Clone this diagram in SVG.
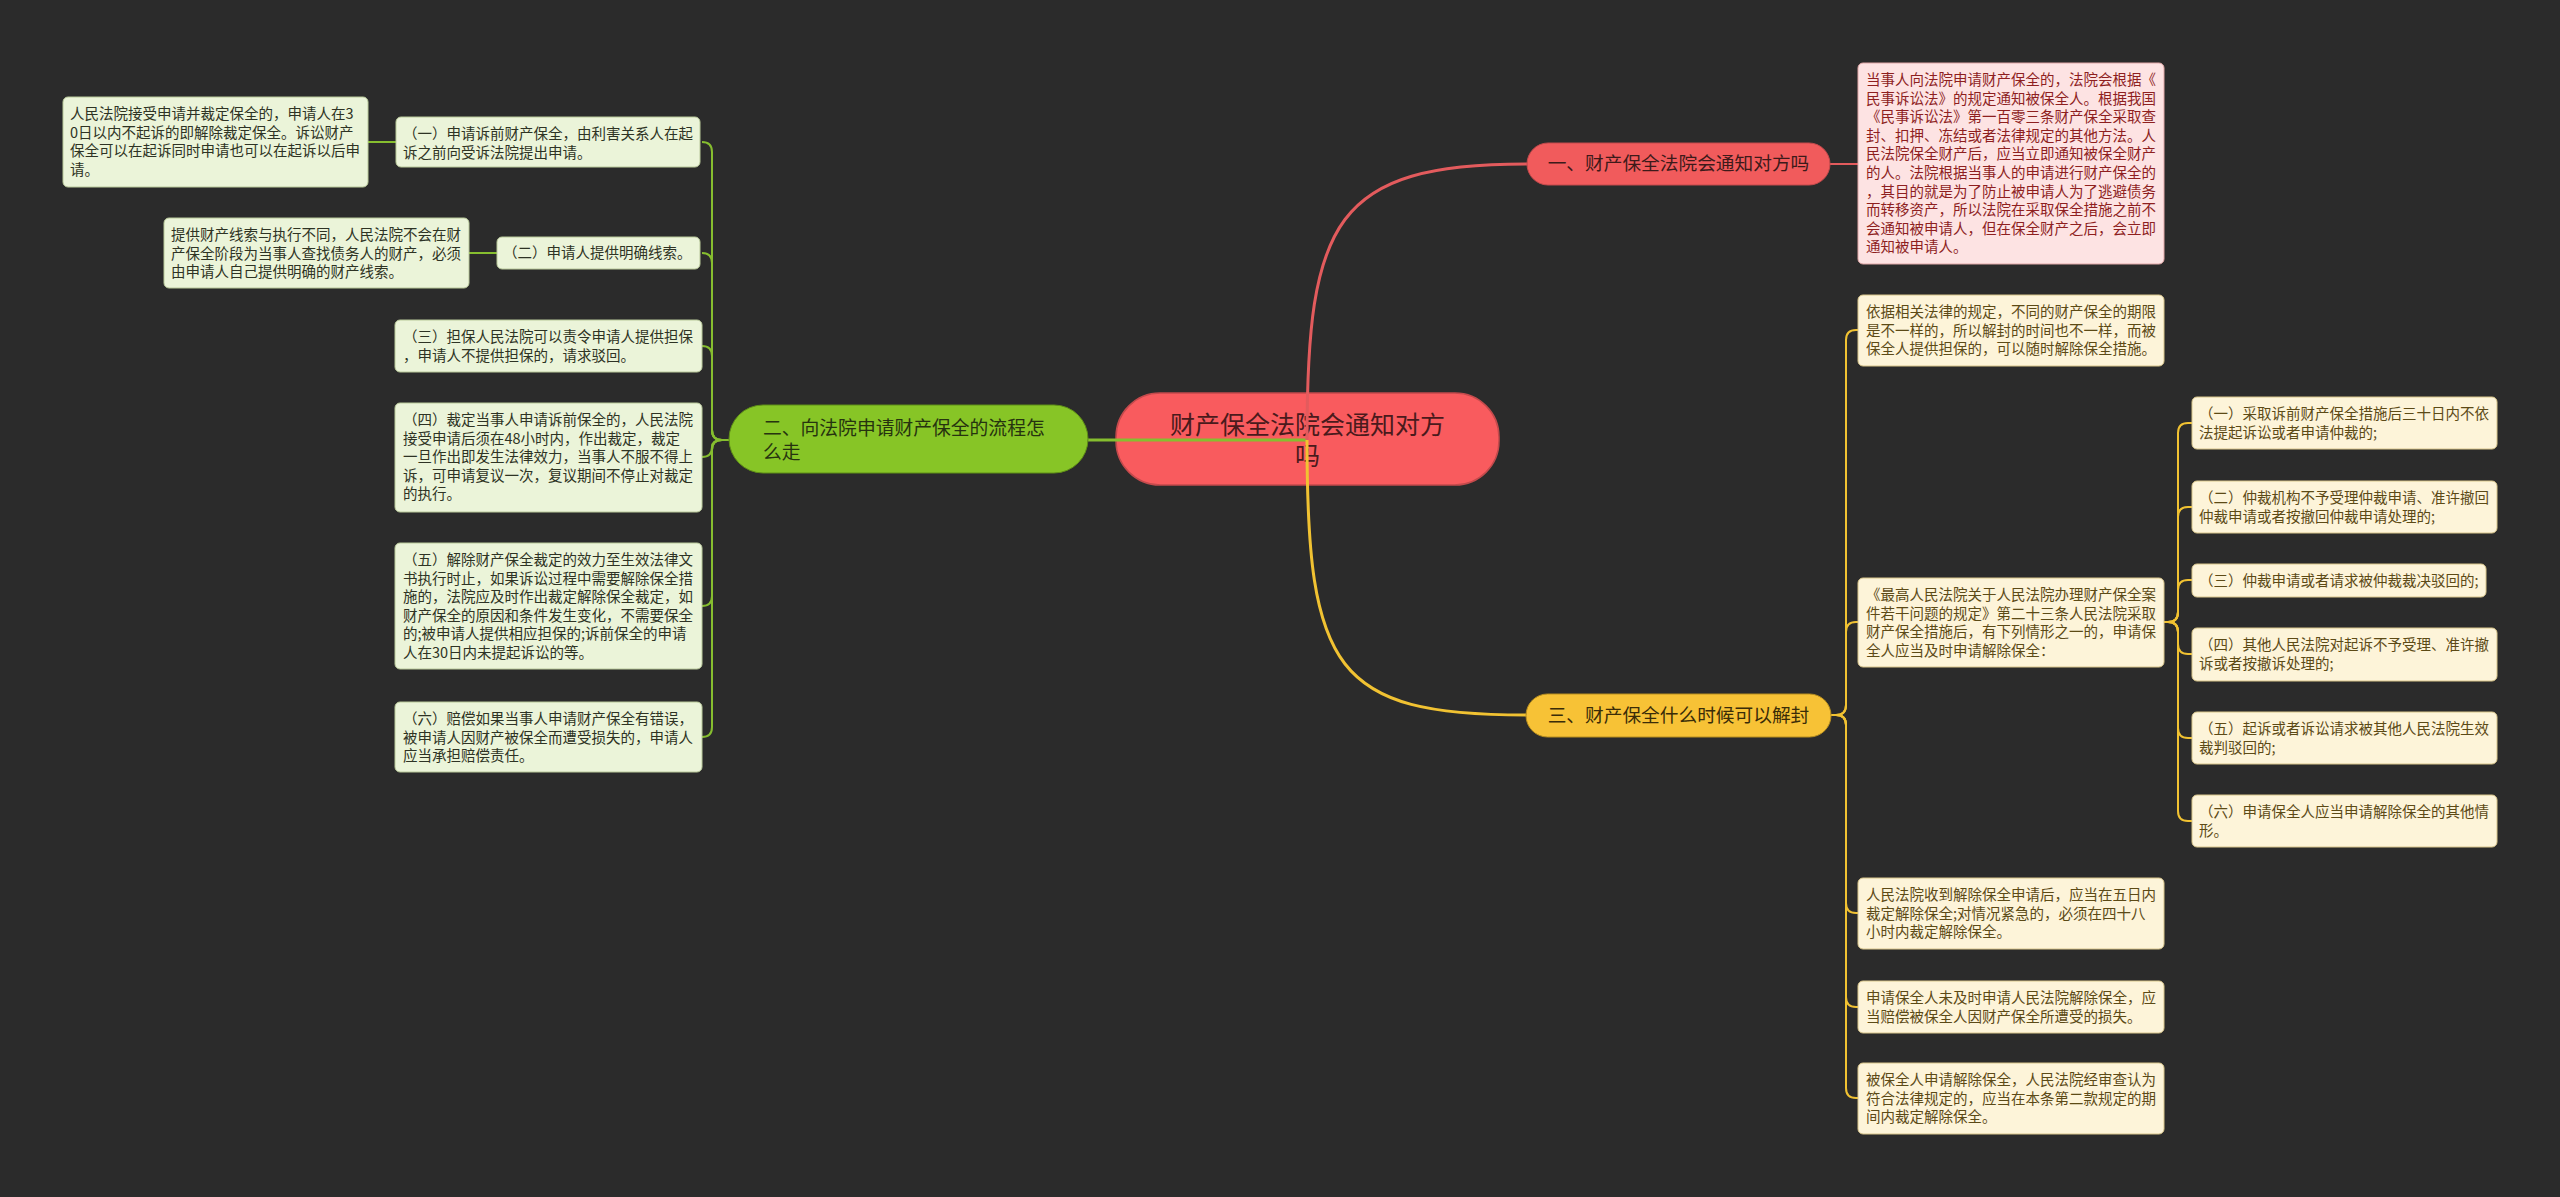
<svg xmlns="http://www.w3.org/2000/svg" width="2560" height="1197" viewBox="0 0 2560 1197">
<style>
text{font-family:"Noto Sans CJK SC","Noto Sans",sans-serif}
.t{font-size:14.5px}
.gl rect{fill:#ebf4d9;stroke:#b9c99a;stroke-width:1}
.gl text{fill:#2e3324}
.yl rect{fill:#fdf4d9;stroke:#d8c58a;stroke-width:1}
.yl text{fill:#5c4a16}
.pl rect{fill:#fde3e3;stroke:#e0a7a7;stroke-width:1}
.pl text{fill:#8e1f1f}
.cg{fill:none;stroke:#86be2f;stroke-width:2}
.cy{fill:none;stroke:#f1c232;stroke-width:2}
.cr{fill:none;stroke:#e35b5d;stroke-width:2}
</style>
<rect width="2560" height="1197" fill="#2b2b2b"/>

<g id="root">
<rect x="1116" y="393" width="383" height="92" rx="44" fill="#f95b5e" stroke="#c44a4c" stroke-width="1.5"/>
<text x="1307.5" y="434" font-size="25" fill="#4a1a1c" text-anchor="middle">财产保全法院会通知对方</text>
<text x="1307.5" y="465" font-size="25" fill="#4a1a1c" text-anchor="middle">吗</text>
</g>

<g id="connectors">
<path d="M1088,440 L1307,440" fill="none" stroke="#86be2f" stroke-width="3"/>
<path d="M1307,440 C1307,220 1335,164 1527,164" fill="none" stroke="#e35b5d" stroke-width="3"/>
<path d="M1307,440 C1307,670 1335,715 1526,715" fill="none" stroke="#f1c232" stroke-width="3"/>
<path class="cr" d="M1830,164 L1858,164"/>
<path class="cg" d="M729,440 L722,440 Q712,440 712,430 L712,152 Q712,142 702,142"/>
<path class="cg" d="M729,440 L722,440 Q712,440 712,430 L712,263 Q712,253 702,253"/>
<path class="cg" d="M729,440 L722,440 Q712,440 712,430 L712,356 Q712,346 702,346"/>
<path class="cg" d="M729,440 L722,440 Q712,440 712,447 Q712,457 702,457"/>
<path class="cg" d="M729,440 L722,440 Q712,440 712,450 L712,596 Q712,606 702,606"/>
<path class="cg" d="M729,440 L722,440 Q712,440 712,450 L712,727 Q712,737 702,737"/>
<path class="cg" d="M396,142 L368,142"/>
<path class="cg" d="M497,253 L469,253"/>
<path class="cy" d="M1831,715 L1836,715 Q1846,715 1846,705 L1846,340 Q1846,330 1856,330 L1858,330"/>
<path class="cy" d="M1831,715 L1836,715 Q1846,715 1846,705 L1846,632 Q1846,622 1856,622 L1858,622"/>
<path class="cy" d="M1831,715 L1836,715 Q1846,715 1846,725 L1846,903 Q1846,913 1856,913 L1858,913"/>
<path class="cy" d="M1831,715 L1836,715 Q1846,715 1846,725 L1846,997 Q1846,1007 1856,1007 L1858,1007"/>
<path class="cy" d="M1831,715 L1836,715 Q1846,715 1846,725 L1846,1088 Q1846,1098 1856,1098 L1858,1098"/>
<path class="cy" d="M2164,622 L2168,622 Q2178,622 2178,612 L2178,433 Q2178,423 2188,423 L2192,423"/>
<path class="cy" d="M2164,622 L2168,622 Q2178,622 2178,612 L2178,517 Q2178,507 2188,507 L2192,507"/>
<path class="cy" d="M2164,622 L2168,622 Q2178,622 2178,612 L2178,590 Q2178,580 2188,580 L2192,580"/>
<path class="cy" d="M2164,622 L2168,622 Q2178,622 2178,632 L2178,644 Q2178,654 2188,654 L2192,654"/>
<path class="cy" d="M2164,622 L2168,622 Q2178,622 2178,632 L2178,728 Q2178,738 2188,738 L2192,738"/>
<path class="cy" d="M2164,622 L2168,622 Q2178,622 2178,632 L2178,811 Q2178,821 2188,821 L2192,821"/>
</g>

<g id="b1">
<rect x="1527" y="143" width="303" height="42" rx="21" fill="#f15b5c" stroke="#c44a4c" stroke-width="1"/>
<text x="1678.5" y="170" font-size="18.7" fill="#3d1a1a" text-anchor="middle">一、财产保全法院会通知对方吗</text>
</g>
<g id="b2">
<rect x="729" y="405" width="359" height="68" rx="34" fill="#87c526" stroke="#5f8f17" stroke-width="1"/>
<text font-size="18.8" fill="#26330f"><tspan x="763" y="435">二、向法院申请财产保全的流程怎</tspan><tspan x="763" y="459">么走</tspan></text>
</g>
<g id="b3">
<rect x="1526" y="694" width="305" height="43" rx="21.5" fill="#f7c236" stroke="#b98f1f" stroke-width="1"/>
<text x="1678.5" y="722" font-size="18.7" fill="#3a2c08" text-anchor="middle">三、财产保全什么时候可以解封</text>
</g>

<g id="p1" class="pl">
<rect x="1858" y="63" width="306" height="201" rx="5"/>
<text class="t"><tspan x="1866" y="85">当事人向法院申请财产保全的，法院会根据《</tspan><tspan x="1866" dy="18.6">民事诉讼法》的规定通知被保全人。根据我国</tspan><tspan x="1866" dy="18.6">《民事诉讼法》第一百零三条财产保全采取查</tspan><tspan x="1866" dy="18.6">封、扣押、冻结或者法律规定的其他方法。人</tspan><tspan x="1866" dy="18.6">民法院保全财产后，应当立即通知被保全财产</tspan><tspan x="1866" dy="18.6">的人。法院根据当事人的申请进行财产保全的</tspan><tspan x="1866" dy="18.6">，其目的就是为了防止被申请人为了逃避债务</tspan><tspan x="1866" dy="18.6">而转移资产，所以法院在采取保全措施之前不</tspan><tspan x="1866" dy="18.6">会通知被申请人，但在保全财产之后，会立即</tspan><tspan x="1866" dy="18.6">通知被申请人。</tspan></text>
</g>

<g id="l1" class="gl">
<rect x="396" y="117" width="304" height="50" rx="5"/>
<text class="t"><tspan x="403" y="139">（一）申请诉前财产保全，由利害关系人在起</tspan><tspan x="403" dy="18.6">诉之前向受诉法院提出申请。</tspan></text>
</g>
<g id="l1c" class="gl">
<rect x="63" y="97" width="305" height="90" rx="5"/>
<text class="t"><tspan x="70" y="119">人民法院接受申请并裁定保全的，申请人在3</tspan><tspan x="70" dy="18.6">0日以内不起诉的即解除裁定保全。诉讼财产</tspan><tspan x="70" dy="18.6">保全可以在起诉同时申请也可以在起诉以后申</tspan><tspan x="70" dy="18.6">请。</tspan></text>
</g>
<g id="l2" class="gl">
<rect x="497" y="237" width="203" height="32" rx="5"/>
<text class="t" x="503" y="258">（二）申请人提供明确线索。</text>
</g>
<g id="l2c" class="gl">
<rect x="164" y="218" width="305" height="70" rx="5"/>
<text class="t"><tspan x="171" y="240">提供财产线索与执行不同，人民法院不会在财</tspan><tspan x="171" dy="18.6">产保全阶段为当事人查找债务人的财产，必须</tspan><tspan x="171" dy="18.6">由申请人自己提供明确的财产线索。</tspan></text>
</g>
<g id="l3" class="gl">
<rect x="395" y="320" width="307" height="52" rx="5"/>
<text class="t"><tspan x="403" y="342">（三）担保人民法院可以责令申请人提供担保</tspan><tspan x="403" dy="18.6">，申请人不提供担保的，请求驳回。</tspan></text>
</g>
<g id="l4" class="gl">
<rect x="395" y="403" width="307" height="109" rx="5"/>
<text class="t"><tspan x="403" y="425">（四）裁定当事人申请诉前保全的，人民法院</tspan><tspan x="403" dy="18.6">接受申请后须在48小时内，作出裁定，裁定</tspan><tspan x="403" dy="18.6">一旦作出即发生法律效力，当事人不服不得上</tspan><tspan x="403" dy="18.6">诉，可申请复议一次，复议期间不停止对裁定</tspan><tspan x="403" dy="18.6">的执行。</tspan></text>
</g>
<g id="l5" class="gl">
<rect x="395" y="543" width="307" height="126" rx="5"/>
<text class="t"><tspan x="403" y="565">（五）解除财产保全裁定的效力至生效法律文</tspan><tspan x="403" dy="18.6">书执行时止，如果诉讼过程中需要解除保全措</tspan><tspan x="403" dy="18.6">施的，法院应及时作出裁定解除保全裁定，如</tspan><tspan x="403" dy="18.6">财产保全的原因和条件发生变化，不需要保全</tspan><tspan x="403" dy="18.6">的;被申请人提供相应担保的;诉前保全的申请</tspan><tspan x="403" dy="18.6">人在30日内未提起诉讼的等。</tspan></text>
</g>
<g id="l6" class="gl">
<rect x="395" y="702" width="307" height="70" rx="5"/>
<text class="t"><tspan x="403" y="724">（六）赔偿如果当事人申请财产保全有错误，</tspan><tspan x="403" dy="18.6">被申请人因财产被保全而遭受损失的，申请人</tspan><tspan x="403" dy="18.6">应当承担赔偿责任。</tspan></text>
</g>

<g id="c1" class="yl">
<rect x="1858" y="295" width="306" height="71" rx="5"/>
<text class="t"><tspan x="1866" y="317">依据相关法律的规定，不同的财产保全的期限</tspan><tspan x="1866" dy="18.6">是不一样的，所以解封的时间也不一样，而被</tspan><tspan x="1866" dy="18.6">保全人提供担保的，可以随时解除保全措施。</tspan></text>
</g>
<g id="c2" class="yl">
<rect x="1858" y="578" width="306" height="89" rx="5"/>
<text class="t"><tspan x="1866" y="600">《最高人民法院关于人民法院办理财产保全案</tspan><tspan x="1866" dy="18.6">件若干问题的规定》第二十三条人民法院采取</tspan><tspan x="1866" dy="18.6">财产保全措施后，有下列情形之一的，申请保</tspan><tspan x="1866" dy="18.6">全人应当及时申请解除保全：</tspan></text>
</g>
<g id="c3" class="yl">
<rect x="1858" y="878" width="306" height="71" rx="5"/>
<text class="t"><tspan x="1866" y="900">人民法院收到解除保全申请后，应当在五日内</tspan><tspan x="1866" dy="18.6">裁定解除保全;对情况紧急的，必须在四十八</tspan><tspan x="1866" dy="18.6">小时内裁定解除保全。</tspan></text>
</g>
<g id="c4" class="yl">
<rect x="1858" y="981" width="306" height="52" rx="5"/>
<text class="t"><tspan x="1866" y="1003">申请保全人未及时申请人民法院解除保全，应</tspan><tspan x="1866" dy="18.6">当赔偿被保全人因财产保全所遭受的损失。</tspan></text>
</g>
<g id="c5" class="yl">
<rect x="1858" y="1063" width="306" height="71" rx="5"/>
<text class="t"><tspan x="1866" y="1085">被保全人申请解除保全，人民法院经审查认为</tspan><tspan x="1866" dy="18.6">符合法律规定的，应当在本条第二款规定的期</tspan><tspan x="1866" dy="18.6">间内裁定解除保全。</tspan></text>
</g>

<g id="g1" class="yl">
<rect x="2192" y="397" width="305" height="52" rx="5"/>
<text class="t"><tspan x="2199" y="419">（一）采取诉前财产保全措施后三十日内不依</tspan><tspan x="2199" dy="18.6">法提起诉讼或者申请仲裁的;</tspan></text>
</g>
<g id="g2" class="yl">
<rect x="2192" y="481" width="305" height="52" rx="5"/>
<text class="t"><tspan x="2199" y="503">（二）仲裁机构不予受理仲裁申请、准许撤回</tspan><tspan x="2199" dy="18.6">仲裁申请或者按撤回仲裁申请处理的;</tspan></text>
</g>
<g id="g3" class="yl">
<rect x="2192" y="564" width="294" height="33" rx="5"/>
<text class="t" x="2199" y="586">（三）仲裁申请或者请求被仲裁裁决驳回的;</text>
</g>
<g id="g4" class="yl">
<rect x="2192" y="628" width="305" height="53" rx="5"/>
<text class="t"><tspan x="2199" y="650">（四）其他人民法院对起诉不予受理、准许撤</tspan><tspan x="2199" dy="18.6">诉或者按撤诉处理的;</tspan></text>
</g>
<g id="g5" class="yl">
<rect x="2192" y="712" width="305" height="52" rx="5"/>
<text class="t"><tspan x="2199" y="734">（五）起诉或者诉讼请求被其他人民法院生效</tspan><tspan x="2199" dy="18.6">裁判驳回的;</tspan></text>
</g>
<g id="g6" class="yl">
<rect x="2192" y="795" width="305" height="52" rx="5"/>
<text class="t"><tspan x="2199" y="817">（六）申请保全人应当申请解除保全的其他情</tspan><tspan x="2199" dy="18.6">形。</tspan></text>
</g>
</svg>
